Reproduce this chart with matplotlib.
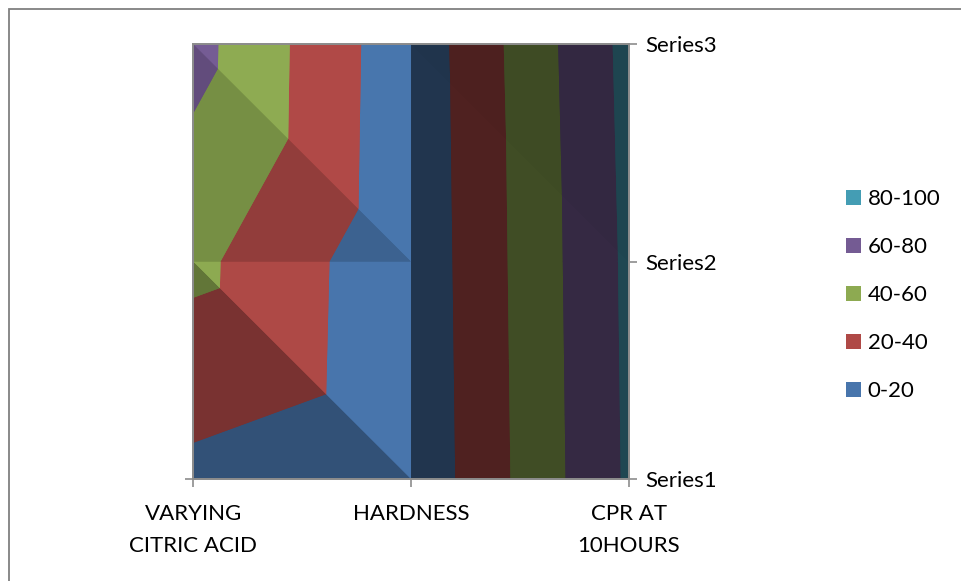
import numpy as np
import matplotlib
matplotlib.use("Agg")
import matplotlib.pyplot as plt
from matplotlib.tri import Triangulation
from matplotlib.patches import Patch, Rectangle
from matplotlib.colors import to_rgb

# Surface values: one list per series, one value per category
categories = ["VARYING\nCITRIC ACID", "HARDNESS", "CPR AT\n10HOURS"]
series_names = ["Series1", "Series2", "Series3"]
series1 = [15, 4, 83]
series2 = [45, 5, 84]
series3 = [67, 6, 86]

# Contour bands
band_edges = [0, 20, 40, 60, 80, 100]
band_labels = ["0-20", "20-40", "40-60", "60-80", "80-100"]
band_colors = ["#4F81BD", "#C0504D", "#9BBB59", "#8064A2", "#4BACC6"]

plt.rcParams["font.family"] = ["Lato", "DejaVu Sans"]
FS = 16
GRAY = "#8C8C8C"

W, H = 961, 581
fig = plt.figure(figsize=(W / 100, H / 100), dpi=100)
ax = fig.add_axes([193.3 / W, 1 - 479 / H, (629 - 193.3) / W, (479 - 44) / H])

Z = np.array([series1, series2, series3], dtype=float)  # rows: series, cols: categories
ny, nx = Z.shape

# Simple Lambert lighting for each flat triangle of the surface
light = np.array([0.40, 0.675, 0.695])
ambient = 0.12


def face_shade(px, py, pz):
    p = np.column_stack([px, py, pz / 100.0])
    n = np.cross(p[1] - p[0], p[2] - p[0])
    if n[2] < 0:
        n = -n
    n = n / np.linalg.norm(n)
    return float(np.clip(ambient + n @ light, 0, 1))


faces = []
for j in range(ny - 1):
    for i in range(nx - 1):
        bl, br, tl, tr = (i, j), (i + 1, j), (i, j + 1), (i + 1, j + 1)
        for tri in [(bl, br, tl), (tl, br, tr)]:
            px = np.array([c[0] for c in tri], dtype=float)
            py = np.array([c[1] for c in tri], dtype=float)
            pz = np.array([Z[c[1], c[0]] for c in tri])
            s = face_shade(px, py, pz)
            cols = [tuple(np.array(to_rgb(c)) * s) for c in band_colors]
            faces.append((Triangulation(px, py, [[0, 1, 2]]), pz, cols))

# an aliased base pass hides seams between faces, a smooth pass goes on top
for aa in (False, True):
    for triang, pz, cols in faces:
        ax.tricontourf(triang, pz, levels=band_edges, colors=cols, antialiased=aa)

ax.set_xlim(0, nx - 1)
ax.set_ylim(0, ny - 1)

for sp in ax.spines.values():
    sp.set_color(GRAY)
    sp.set_linewidth(1.3)

ax.set_xticks(range(nx))
ax.set_xticklabels(categories, fontsize=FS, linespacing=1.75, color="black")
ax.set_yticks([0])
ax.set_yticklabels([""])
ax.tick_params(axis="both", direction="out", length=6, width=1.2, color=GRAY)
ax.tick_params(axis="x", pad=12)

ax2 = ax.twinx()
ax2.set_ylim(0, ny - 1)
ax2.set_yticks(range(ny))
ax2.set_yticklabels(series_names, fontsize=FS, color="black")
ax2.tick_params(axis="y", direction="out", length=6, width=1.2, color=GRAY, pad=5.5)
for sp in ax2.spines.values():
    sp.set_color(GRAY)
    sp.set_linewidth(1.3)

# Chart border
fig.patches.append(Rectangle((8.5 / W, -0.5), 2.0, 1.5 - 8.5 / H,
                             transform=fig.transFigure, fill=False,
                             edgecolor="#808080", linewidth=1.3))

handles = [Patch(facecolor=tuple(np.array(to_rgb(c)) * 0.91), edgecolor="none", label=l)
           for c, l in zip(band_colors, band_labels)][::-1]
fig.legend(handles=handles, loc="center left", bbox_to_anchor=(846 / W, 1 - 295 / H),
           frameon=False, borderpad=0, borderaxespad=0, fontsize=FS,
           handlelength=0.68, handleheight=0.68, handletextpad=0.3, labelspacing=1.26)

fig.savefig("out.png", dpi=100)
